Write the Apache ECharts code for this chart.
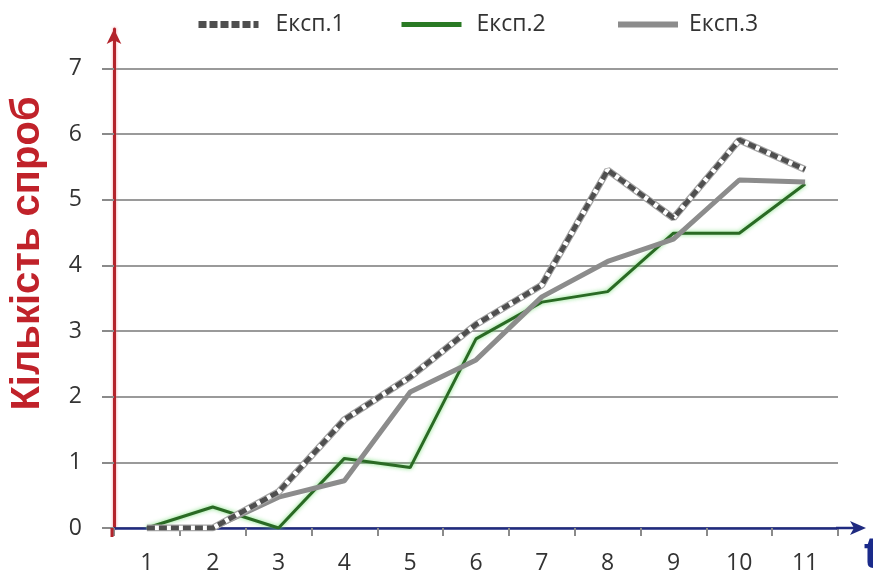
<!DOCTYPE html>
<html><head><meta charset="utf-8">
<script src="https://cdn.jsdelivr.net/npm/echarts@6/dist/echarts.min.js"></script>
<style>html,body{margin:0;padding:0;background:#fff}#c{width:873px;height:578px}</style>
</head><body><div id="c"></div>
<script>
const categories = ['1','2','3','4','5','6','7','8','9','10','11'];
const exp1 = [0, 0, 0.55, 1.65, 2.3, 3.1, 3.7, 5.45, 4.72, 5.91, 5.46];
const exp2 = [0, 0.32, 0, 1.06, 0.92, 2.88, 3.44, 3.6, 4.49, 4.49, 5.24];
const exp3 = [0, 0, 0.47, 0.72, 2.07, 2.56, 3.52, 4.06, 4.4, 5.3, 5.27];
const yTicks = [0, 1, 2, 3, 4, 5, 6, 7];
const seriesNames = ['Експ.1', 'Експ.2', 'Експ.3'];
const yTitle = 'Кількість спроб';
const xTitle = 't';

const FONT = 'Open Sans';
const GRID = {left: 112, right: 35, top: 29, bottom: 50};
const chart = echarts.init(document.getElementById('c'), null, {renderer: 'canvas'});

const legendText = {fontFamily: FONT, fontSize: 23, color: '#333'};
function legendFor(name, left, lineStyle, textPadLeft) {
  return {
    data: [name], left: left, top: 8, itemWidth: 60, itemHeight: 10,
    selectedMode: false,
    itemStyle: {opacity: 0},
    lineStyle: lineStyle,
    textStyle: Object.assign({}, legendText, {padding: [0, 0, 0, textPadLeft]})
  };
}
const option = {
  animation: false,
  backgroundColor: '#fff',
  grid: GRID,
  legend: [
    legendFor(seriesNames[0], 190, {color: '#4f4f4f', width: 7, type: [8, 3]}, 12),
    legendFor(seriesNames[1], 394, {color: '#2a7a24', width: 5}, 10),
    legendFor(seriesNames[2], 610, {color: '#8c8c8c', width: 6}, 6)
  ],
  xAxis: {
    type: 'category',
    data: categories,
    boundaryGap: true,
    axisLine: {lineStyle: {color: '#1f2a80', width: 2.5}},
    axisTick: {show: true, length: 8, lineStyle: {color: '#8a8a8a', width: 2}},
    axisLabel: {fontFamily: FONT, fontSize: 23, color: '#333', margin: 24},
    splitLine: {show: false}
  },
  yAxis: {
    type: 'value',
    min: 0, max: 7.6, interval: 1,
    name: yTitle,
    nameLocation: 'middle',
    nameRotate: 90,
    nameGap: 66,
    nameTextStyle: {fontFamily: 'Liberation Sans', fontWeight: 'bold', fontSize: 40, color: '#c0222a', padding: [0, 0, 0, 50]},
    axisLine: {show: true, symbol: ['none', 'arrow'], symbolSize: [11, 15],
      lineStyle: {color: '#b3232b', width: 3, shadowColor: 'rgba(240,120,130,0.8)', shadowBlur: 3}},
    axisTick: {show: true, length: 12, customValues: yTicks, lineStyle: {color: '#8a8a8a', width: 2}},
    axisLabel: {customValues: yTicks, fontFamily: FONT, fontSize: 23, color: '#333', margin: 32},
    splitLine: {show: true, lineStyle: {color: '#9a9a9a', width: 2}}
  },
  series: [
    {name: seriesNames[1], type: 'line', data: exp2, symbol: 'none', silent: true, z: 2,
      lineStyle: {color: '#2a6a24', width: 3, shadowColor: 'rgba(110,220,110,0.9)', shadowBlur: 4}},
    {name: seriesNames[2], type: 'line', data: exp3, symbol: 'none', silent: true, z: 3,
      lineStyle: {color: '#8c8c8c', width: 5}},
    {name: 'e1base', type: 'line', data: exp1, symbol: 'none', silent: true, z: 4,
      lineStyle: {color: '#a6a6a6', width: 7}},
    {name: 'e1white', type: 'line', data: exp1, symbol: 'none', silent: true, z: 4,
      lineStyle: {color: '#ffffff', width: 4.5}},
    {name: seriesNames[0], type: 'line', data: exp1, symbol: 'none', silent: true, z: 4,
      lineStyle: {color: '#4f4f4f', width: 5, type: [8, 4]}}
  ]
};
chart.setOption(option);

// extend axis lines beyond the plot (x arrow, y stub below zero) and x-axis title
const y0 = chart.convertToPixel({yAxisIndex: 0}, 0);
const xEnd = chart.getWidth() - GRID.right;
const xStart = GRID.left;
chart.setOption({
  graphic: [
    {type: 'line', silent: true, z: 1, shape: {x1: xStart, y1: y0, x2: xStart, y2: y0 + 9},
      style: {stroke: '#b3232b', lineWidth: 3}},
    {type: 'line', silent: true, z: 10, shape: {x1: xEnd - 2, y1: y0, x2: 860, y2: y0},
      style: {stroke: '#1f2a80', lineWidth: 2.5}},
    {type: 'polygon', silent: true, z: 10,
      shape: {points: [[850, y0 - 7], [866, y0], [850, y0 + 7], [854, y0]]},
      style: {fill: '#1f2a80'}},
    {type: 'text', silent: true, z: 10, x: 864, y: y0 + 6,
      style: {text: xTitle, font: 'bold 44px "Liberation Sans"', fill: '#1a2a8a', verticalAlign: 'top'}}
  ]
});
</script>
</body></html>
